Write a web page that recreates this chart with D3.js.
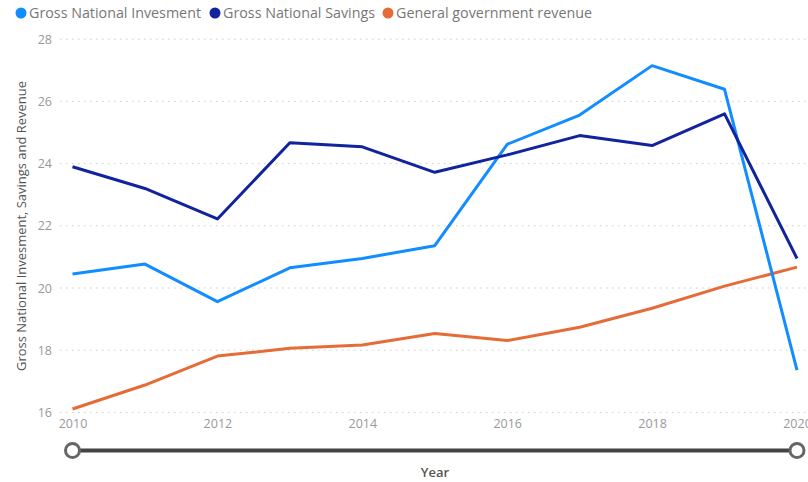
<!DOCTYPE html>
<html>
<head>
<meta charset="utf-8">
<script src="https://cdn.jsdelivr.net/npm/d3@7"></script>
<style>
  html, body { margin: 0; padding: 0; background: #fff; }
  svg { display: block; font-family: "Segoe UI", "Open Sans", "Noto Sans", sans-serif; }
</style>
</head>
<body>
<svg id="chart" width="808" height="482"></svg>
<script>
// Annual series, 2010–2020
const years = [2010, 2011, 2012, 2013, 2014, 2015, 2016, 2017, 2018, 2019, 2020];
const grossNationalInvestment = [20.45, 20.77, 19.56, 20.65, 20.95, 21.36, 24.62, 25.56, 27.15, 26.39, 17.36];
const grossNationalSavings = [23.9, 23.2, 22.22, 24.67, 24.54, 23.72, 24.28, 24.9, 24.58, 25.6, 20.95];
const governmentRevenue = [16.11, 16.88, 17.81, 18.06, 18.17, 18.54, 18.31, 18.74, 19.35, 20.06, 20.67];

const seriesNames = ["Gross National Invesment", "Gross National Savings", "General government revenue"];
const seriesColors = ["#118DFF", "#12239E", "#E66C37"];
const yTicks = [16, 18, 20, 22, 24, 26, 28];
const xTicks = [2010, 2012, 2014, 2016, 2018, 2020];

const svg = d3.select("#chart");

const x = d3.scaleLinear().domain([2010, 2020]).range([72.5, 797]);
const y = d3.scaleLinear().domain([16, 28]).range([412.4, 39.2]);

// Legend: marker x-position and label width per entry
const legendX = [21, 215, 388];
const legendW = [172, 152, 196];
const legend = svg.append("g");
seriesNames.forEach((name, i) => {
  const g = legend.append("g").attr("transform", `translate(${legendX[i]},13)`);
  g.append("circle").attr("r", 5.5).attr("cx", 0).attr("cy", 0).attr("fill", seriesColors[i]);
  g.append("text").attr("x", 8).attr("y", 5)
    .attr("font-size", 14).attr("fill", "#777")
    .attr("textLength", legendW[i]).attr("lengthAdjust", "spacingAndGlyphs")
    .text(name);
});

// Horizontal dotted gridlines
svg.append("g").selectAll("line").data(yTicks).join("line")
  .attr("x1", 60).attr("x2", 808)
  .attr("y1", d => y(d)).attr("y2", d => y(d))
  .attr("stroke", "#ccc").attr("stroke-width", 1)
  .attr("stroke-dasharray", "1.5,4.5");

// Y axis tick labels
const yAxis = d3.axisLeft(y).tickValues(yTicks).tickSize(0).tickPadding(0);
const yg = svg.append("g").attr("transform", "translate(52,0)").call(yAxis);
yg.select(".domain").remove();
yg.selectAll("text").attr("font-size", 12.5).attr("fill", "#999")
  .attr("font-family", "\"Segoe UI\", \"Open Sans\", sans-serif");

// X axis tick labels
const xAxis = d3.axisBottom(x).tickValues(xTicks).tickFormat(d3.format("d")).tickSize(0).tickPadding(0);
const xg = svg.append("g").attr("transform", "translate(0,419)").call(xAxis);
xg.select(".domain").remove();
xg.selectAll("text").attr("font-size", 12.5).attr("fill", "#999")
  .attr("font-family", "\"Segoe UI\", \"Open Sans\", sans-serif");

// Y axis title
svg.append("text")
  .attr("transform", "translate(26,226) rotate(-90)")
  .attr("text-anchor", "middle")
  .attr("font-size", 12).attr("fill", "#555")
  .attr("textLength", 290).attr("lengthAdjust", "spacingAndGlyphs")
  .text("Gross National Invesment, Savings and Revenue");

// Lines
const seriesData = [grossNationalInvestment, grossNationalSavings, governmentRevenue];
const line = d3.line().x((d, i) => x(years[i])).y(d => y(d));
const drawOrder = [2, 0, 1];
drawOrder.forEach(i => {
  svg.append("path")
    .datum(seriesData[i])
    .attr("d", line)
    .attr("fill", "none")
    .attr("stroke", seriesColors[i])
    .attr("stroke-width", 3)
    .attr("stroke-linejoin", "round");
});

// Range slider under the x axis
const sliderY = 450.5;
svg.append("line")
  .attr("x1", x(2010)).attr("x2", x(2020))
  .attr("y1", sliderY).attr("y2", sliderY)
  .attr("stroke", "#444").attr("stroke-width", 4);
[2010, 2020].forEach(v => {
  svg.append("circle")
    .attr("cx", x(v)).attr("cy", sliderY).attr("r", 7)
    .attr("fill", "#fff").attr("stroke", "#666").attr("stroke-width", 3);
});

// X axis title
svg.append("text")
  .attr("x", 435).attr("y", 477)
  .attr("text-anchor", "middle")
  .attr("font-size", 13).attr("font-weight", 600).attr("fill", "#555")
  .text("Year");
</script>
</body>
</html>
